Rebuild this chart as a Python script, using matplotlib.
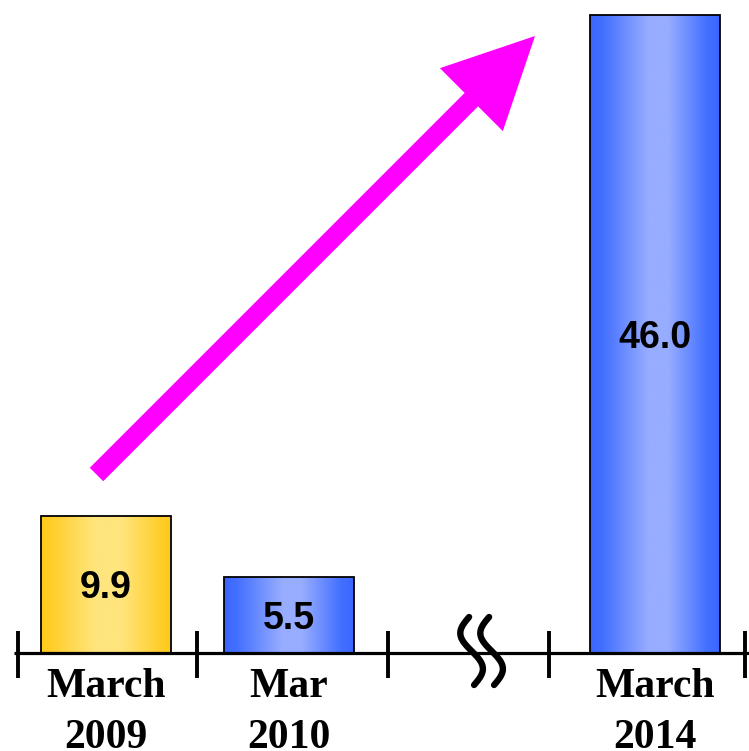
import numpy as np
import matplotlib
matplotlib.use("Agg")
import matplotlib.pyplot as plt
from matplotlib.colors import LinearSegmentedColormap
from matplotlib.patches import FancyArrow

# Data
categories = ["March\n2009", "Mar\n2010", "March\n2014"]
values = [9.9, 5.5, 46.0]
positions = [0, 1, 3]
value_labels = ["9.9", "5.5", "46.0"]
bar_styles = ["gold", "blue", "blue"]

# Segment boundaries along the time axis (gap between 2010 and 2014 is broken)
tick_positions = [-0.48, 0.5, 1.54, 2.42, 3.49]
break_position = 2.05

W, H = 749, 751
fig = plt.figure(figsize=(W / 100, H / 100), dpi=100)
ax = fig.add_axes([0, 0, 1, 1])
ax.axis("off")

gradients = {
    "gold": LinearSegmentedColormap.from_list(
        "gold", [(0, "#FFCA18"), (0.08, "#FFCE2A"), (0.42, "#FFE57E"),
                 (0.62, "#FFE57E"), (0.92, "#FFCE2A"), (1, "#FFCA18")]),
    "blue": LinearSegmentedColormap.from_list(
        "blue", [(0, "#3A66FF"), (0.1, "#4470FF"), (0.45, "#98ADFF"),
                 (0.6, "#98ADFF"), (0.9, "#4470FF"), (1, "#3A66FF")]),
}

bar_width = 0.71
bars = ax.bar(positions, values, width=bar_width, facecolor="none",
              edgecolor="black", linewidth=1.3, zorder=3)
ramp = np.linspace(0, 1, 256).reshape(1, -1)
for rect, style in zip(bars, bar_styles):
    x0, y0 = rect.get_x(), rect.get_y()
    im = ax.imshow(ramp, cmap=gradients[style], aspect="auto",
                   extent=(x0, x0 + rect.get_width(), y0, y0 + rect.get_height()),
                   zorder=2, interpolation="bicubic")
    im.set_clip_path(rect)
ax.set_xlim(-0.579, 3.514)
ax.set_ylim(-7.07, 47.08)

# Value labels inside bars
for p, v, lab in zip(positions, values, value_labels):
    ax.text(p, v / 2, lab, ha="center", va="center_baseline", fontsize=27,
            fontweight="bold", family="Liberation Sans", color="black", zorder=4)

# Time axis with boundary ticks
ax.plot([tick_positions[0] - 0.02, 3.514], [0, 0], color="black", lw=2.3,
        zorder=5, solid_capstyle="butt")
for t in tick_positions:
    ax.plot([t, t], [-1.8, 1.6], color="black", lw=2.8, zorder=5,
            solid_capstyle="butt")

# Category labels
for p, c in zip(positions, categories):
    top, bottom = c.split("\n")
    ax.text(p, -3.17, top, ha="center", va="baseline", fontsize=30,
            fontweight="bold", family="Liberation Serif")
    ax.text(p, -6.85, bottom, ha="center", va="baseline", fontsize=30,
            fontweight="bold", family="Liberation Serif")

# Overlay in pixel units for the arrow and the axis-break mark
ov = fig.add_axes([0, 0, 1, 1], facecolor="none")
ov.set_xlim(0, W)
ov.set_ylim(H, 0)
ov.axis("off")

tail = (96.5, 474.5)
tip = (535.0, 36.0)
ov.add_patch(FancyArrow(tail[0], tail[1], tip[0] - tail[0], tip[1] - tail[1],
                        width=19, head_width=89, head_length=90,
                        length_includes_head=True, color="#FF00FF", lw=0,
                        zorder=6))

# Break mark: two S-shaped strokes across the axis
bx = ax.transData.transform((break_position, 0))[0]
s = np.linspace(0, 1, 100)
for dx in (-12, 8):
    xs = bx + dx - 10 * np.sin(2 * np.pi * s) + 5 * s
    ys = 617 + 68 * s
    ov.plot(xs, ys, color="black", lw=4.6, solid_capstyle="round", zorder=7)

fig.savefig("out.png", dpi=100, facecolor="white")
